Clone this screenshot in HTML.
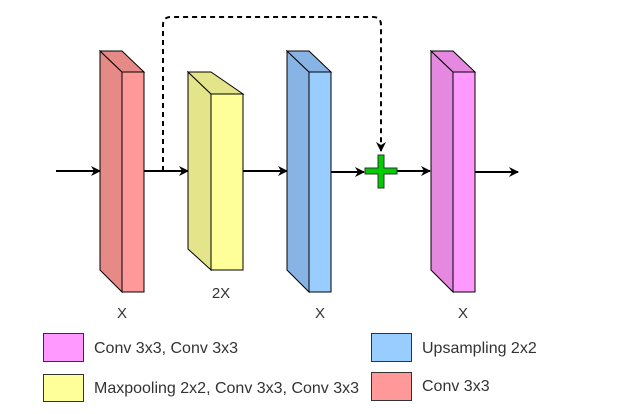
<!DOCTYPE html>
<html><head><meta charset="utf-8"><style>
body{margin:0;background:#fff}
svg{display:block}
text{font-family:"Liberation Sans",sans-serif;fill:#333}
</style></head><body>
<svg width="635" height="414" viewBox="0 0 635 414">
<defs><marker id="ah" markerWidth="10" markerHeight="10" refX="9" refY="5" orient="auto" markerUnits="userSpaceOnUse"><path d="M0,0 L10,5 L0,10 L3,5 Z" fill="#000"/></marker></defs>
<g stroke="#000" stroke-width="2" fill="none">
<line x1="56" y1="171" x2="100" y2="171" marker-end="url(#ah)"/>
<line x1="144" y1="171" x2="188" y2="171" marker-end="url(#ah)"/>
<line x1="243" y1="171" x2="287" y2="171" marker-end="url(#ah)"/>
<line x1="331" y1="172" x2="364" y2="172" marker-end="url(#ah)"/>
<line x1="397" y1="171" x2="430" y2="171" marker-end="url(#ah)"/>
<line x1="475" y1="172" x2="518" y2="172" marker-end="url(#ah)"/>
<path d="M163,171 L163,25 Q163,17 171,17 L373,17 Q381,17 381,25 L381,151" stroke-dasharray="5,4" marker-end="url(#ah)"/>
</g>
<g stroke="#000" stroke-width="1">
<polygon points="100,51 122,72 122,292 100,270" fill="#e58a87"/>
<polygon points="100,51 122,51 144,72 122,72" fill="#e58a87"/>
<rect x="122" y="72" width="22" height="220" fill="#ff9999"/>
</g>
<g stroke="#000" stroke-width="1">
<polygon points="188,72 211,94 211,270 188,249" fill="#e4e48a"/>
<polygon points="188,72 211,72 243,94 211,94" fill="#e4e48a"/>
<rect x="211" y="94" width="32" height="176" fill="#ffff99"/>
</g>
<g stroke="#000" stroke-width="1">
<polygon points="287,51 309,72 309,292 287,270" fill="#88b4e5"/>
<polygon points="287,51 309,51 331,72 309,72" fill="#88b4e5"/>
<rect x="309" y="72" width="22" height="220" fill="#99ccff"/>
</g>
<g stroke="#000" stroke-width="1">
<polygon points="431,51 453,72 453,292 431,270" fill="#e588e0"/>
<polygon points="431,51 453,51 475,72 453,72" fill="#e588e0"/>
<rect x="453" y="72" width="22" height="220" fill="#ff99ff"/>
</g>
<path d="M378,155 h6 v13 h13 v6 h-13 v14 h-6 v-14 h-13 v-6 h13 z" fill="#00cc00" stroke="#333" stroke-width="1"/>
<text x="122" y="318" font-size="15" text-anchor="middle">X</text>
<text x="221" y="298" font-size="15" text-anchor="middle">2X</text>
<text x="320" y="318" font-size="15" text-anchor="middle">X</text>
<text x="463" y="318" font-size="15" text-anchor="middle">X</text>
<g stroke="#333" stroke-width="1">
<rect x="43.5" y="333.5" width="40" height="28" fill="#ff99ff"/>
<rect x="43.5" y="374.5" width="40" height="27" fill="#ffff99"/>
<rect x="371.5" y="333.5" width="40" height="28" fill="#99ccff"/>
<rect x="371.5" y="372.5" width="40" height="28" fill="#ff9999"/>
</g>
<text x="94" y="353" font-size="16">Conv 3x3, Conv 3x3</text>
<text x="94" y="393" font-size="16">Maxpooling 2x2, Conv 3x3, Conv 3x3</text>
<text x="422" y="353" font-size="16">Upsampling 2x2</text>
<text x="422" y="391" font-size="16">Conv 3x3</text>
</svg>
</body></html>
